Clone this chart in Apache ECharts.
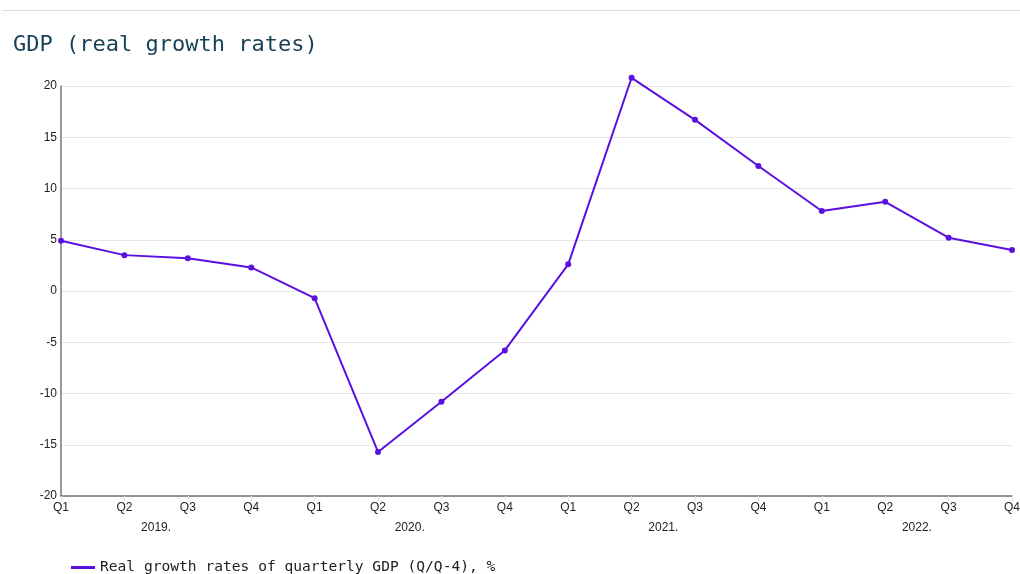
<!DOCTYPE html>
<html>
<head>
<meta charset="utf-8">
<script src="https://cdn.jsdelivr.net/npm/echarts@6/dist/echarts.min.js"></script>
<style>html,body{margin:0;padding:0;background:#fff}#c{width:1020px;height:574px}</style>
</head>
<body>
<div id="c"></div>
<script>
const quarters = ["Q1","Q2","Q3","Q4","Q1","Q2","Q3","Q4","Q1","Q2","Q3","Q4","Q1","Q2","Q3","Q4"];
const years = ["2019.","2020.","2021.","2022."];
const gdpGrowth = [4.9,3.5,3.2,2.3,-0.7,-15.7,-10.8,-5.8,2.6,20.8,16.7,12.2,7.8,8.7,5.2,4.0];
const yTicks = {min:-20, max:20, interval:5};
const seriesName = "Real growth rates of quarterly GDP (Q/Q-4), %";

const chart = echarts.init(document.getElementById('c'));
chart.setOption({
  animation:false,
  title:{text:"GDP (real growth rates)", left:8, top:29,
    textStyle:{fontFamily:"DejaVu Sans Mono", fontSize:22, fontWeight:'normal', color:'#173f56'}},
  graphic:[{type:'line', shape:{x1:2,y1:10.5,x2:1020,y2:10.5}, style:{stroke:'#dddddd', lineWidth:1}}],
  legend:{left:66, top:555, icon:'rect', itemWidth:24, itemHeight:3, itemGap:8,
    textStyle:{fontFamily:"DejaVu Sans Mono", fontSize:14.6, color:'#222'}},
  grid:[{left:61, right:8, top:86, bottom:78, outerBoundsMode:'none', containLabel:false},
        {left:29.3, width:1014.4, top:86, bottom:78, outerBoundsMode:'none', containLabel:false}],
  xAxis:[{type:'category', gridIndex:0, data:quarters, boundaryGap:false,
      axisLine:{onZero:false, lineStyle:{color:'#777', width:1.5}},
      axisTick:{show:true, length:5, lineStyle:{color:'#e0e0e0'}},
      axisLabel:{color:'#222', fontFamily:'Liberation Sans', fontSize:12, margin:6, interval:0}},
    {type:'category', gridIndex:1, data:years, boundaryGap:true, position:'bottom',
      axisLine:{show:false}, axisTick:{show:false},
      axisLabel:{color:'#222', fontFamily:'Liberation Sans', fontSize:12, margin:26, interval:0}}],
  yAxis:[{type:'value', gridIndex:0, min:yTicks.min, max:yTicks.max, interval:yTicks.interval,
      axisLine:{show:true, onZero:false, lineStyle:{color:'#777', width:1.5}},
      axisTick:{show:false},
      splitLine:{lineStyle:{color:'#e6e6e6'}},
      axisLabel:{color:'#222', fontFamily:'Liberation Sans', fontSize:12, margin:4}},
    {type:'value', gridIndex:1, show:false, min:0, max:1}],
  series:[{name:seriesName, type:'line', xAxisIndex:0, yAxisIndex:0, data:gdpGrowth,
    clip:false, symbol:'circle', symbolSize:6,
    lineStyle:{color:'#5a10e0', width:2}, itemStyle:{color:'#5a10e0'}}]
});
</script>
</body>
</html>
